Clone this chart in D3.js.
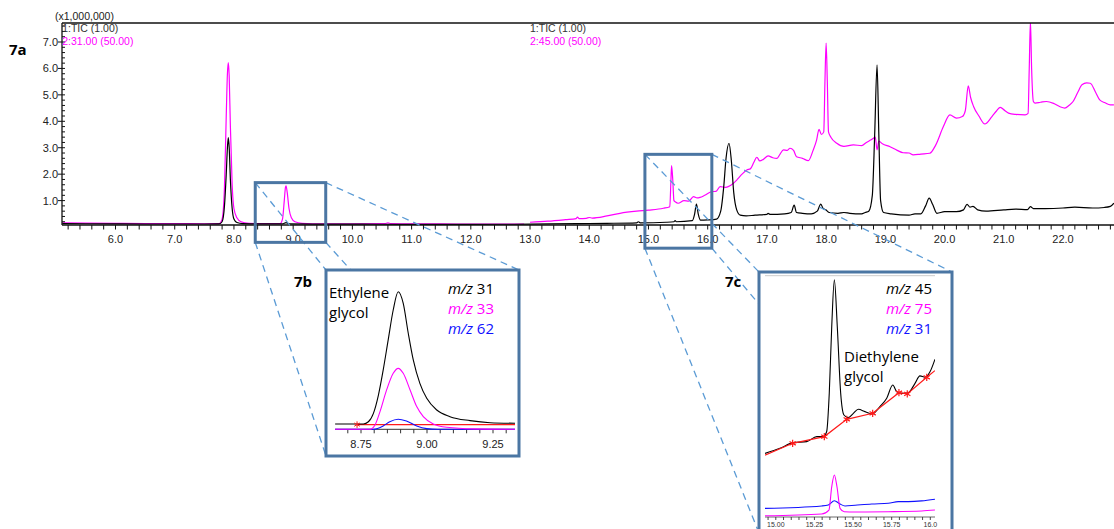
<!DOCTYPE html>
<html>
<head>
<meta charset="utf-8">
<script src="https://cdn.jsdelivr.net/npm/d3@7"></script>
<style>
  html, body { margin: 0; background: #fff; }
  svg { display: block; }
</style>
</head>
<body>
<div id="chart"></div>
<script>
// ---- 7a: main chromatogram (minutes, x1,000,000 counts) ----
const TIC = [
  [5.10,0.13],[5.5,0.125],[6.0,0.12],[6.5,0.115],[7.0,0.115],[7.5,0.115],[7.75,0.12],[7.80,0.2],
  [7.84,0.8],[7.87,2.0],[7.89,3.0],[7.905,3.38],[7.92,3.0],[7.94,1.8],[7.97,0.7],[8.00,0.3],
  [8.05,0.17],[8.15,0.13],[8.5,0.12],[8.82,0.12],[8.88,0.17],[8.93,0.12],[9.5,0.11],[10.0,0.11],
  [11.0,0.10],[12.0,0.10],[13.0,0.11],[13.8,0.13],[14.3,0.14],[14.8,0.16],[14.83,0.2],[14.86,0.16],
  [15.3,0.18],[15.43,0.2],[15.45,0.24],[15.47,0.2],[15.74,0.24],[15.78,0.5],[15.81,0.87],[15.84,0.5],
  [15.88,0.26],[16.0,0.27],[16.15,0.3],[16.22,0.6],[16.27,1.5],[16.31,2.6],[16.36,3.17],[16.40,2.5],
  [16.44,1.3],[16.49,0.65],[16.55,0.45],[16.65,0.42],[16.8,0.45],[17.0,0.48],[17.02,0.52],[17.05,0.48],
  [17.3,0.5],[17.41,0.55],[17.46,0.83],[17.50,0.55],[17.6,0.52],[17.75,0.5],[17.85,0.6],[17.91,0.87],
  [17.95,0.7],[17.99,0.66],[18.05,0.55],[18.2,0.52],[18.3,0.55],[18.4,0.52],[18.6,0.5],[18.66,0.55],
  [18.72,0.6],[18.78,1.2],[18.82,3.5],[18.86,6.14],[18.89,3.5],[18.92,1.0],[18.97,0.55],[19.1,0.5],
  [19.4,0.45],[19.5,0.5],[19.6,0.5],[19.68,0.8],[19.74,1.09],[19.8,0.85],[19.87,0.52],[20.0,0.58],
  [20.2,0.58],[20.32,0.65],[20.38,0.86],[20.43,0.75],[20.48,0.78],[20.56,0.65],[20.7,0.6],[21.0,0.65],
  [21.2,0.68],[21.4,0.66],[21.45,0.77],[21.5,0.7],[21.7,0.7],[22.0,0.72],[22.2,0.75],[22.5,0.72],
  [22.7,0.74],[22.8,0.78],[22.86,0.9]
];
const MZ31_MAIN = [
  [5.1,0.16],[5.5,0.15],[6.0,0.14],[6.5,0.13],[7.0,0.13],[7.5,0.125],[7.75,0.13],[7.80,0.3],
  [7.84,1.5],[7.87,4.2],[7.89,5.8],[7.905,6.22],[7.92,5.7],[7.94,3.8],[7.97,1.6],[8.0,0.7],
  [8.05,0.35],[8.12,0.2],[8.25,0.14],[8.5,0.13],[8.78,0.13],[8.82,0.3],[8.85,1.0],[8.87,1.5],
  [8.88,1.56],[8.90,1.3],[8.93,0.7],[8.97,0.35],[9.03,0.2],[9.15,0.14],[9.5,0.12],[10.0,0.12],
  [10.55,0.13],[10.6,0.16],[10.65,0.13],[11.0,0.12],[11.5,0.12],[12.0,0.11],[12.9,0.11]
];
const MZ45_MAIN = [
  [13.0,0.18],[13.3,0.22],[13.6,0.28],[13.78,0.32],[13.8,0.38],[13.83,0.32],[13.95,0.33],[14.0,0.36],
  [14.05,0.34],[14.3,0.42],[14.52,0.52],[14.8,0.6],[15.0,0.64],[15.25,0.71],[15.36,0.77],[15.38,1.8],
  [15.39,2.32],[15.41,1.8],[15.43,1.0],[15.45,0.96],[15.5,0.9],[15.6,1.0],[15.68,0.98],[15.76,1.15],
  [15.82,1.1],[15.87,1.12],[15.95,1.2],[16.07,1.34],[16.14,1.35],[16.21,1.53],[16.3,1.5],[16.43,1.65],
  [16.5,1.8],[16.58,2.0],[16.66,2.16],[16.72,2.2],[16.78,2.45],[16.83,2.64],[16.88,2.5],[16.94,2.56],
  [17.02,2.69],[17.1,2.62],[17.17,2.6],[17.22,2.75],[17.28,2.92],[17.34,2.9],[17.39,2.98],[17.45,2.9],
  [17.5,2.66],[17.6,2.6],[17.7,2.51],[17.78,2.9],[17.84,3.3],[17.88,3.7],[17.92,3.5],[17.96,3.6],
  [17.98,5.5],[18.0,6.96],[18.02,5.5],[18.04,3.6],[18.08,3.4],[18.18,3.17],[18.3,3.05],[18.46,3.11],
  [18.6,3.08],[18.68,3.2],[18.76,3.3],[18.8,3.36],[18.83,3.4],[18.86,2.92],[18.89,3.25],[18.95,3.15],
  [19.08,3.04],[19.2,2.9],[19.3,2.81],[19.4,2.8],[19.47,2.73],[19.6,2.76],[19.75,2.79],[19.85,3.1],
  [19.98,3.8],[20.09,4.24],[20.2,4.12],[20.3,4.18],[20.35,4.4],[20.4,5.34],[20.44,4.9],[20.49,4.56],
  [20.58,4.2],[20.68,3.9],[20.8,4.18],[20.88,4.4],[20.94,4.53],[21.02,4.4],[21.08,4.31],[21.2,4.26],
  [21.36,4.24],[21.41,4.3],[21.43,6.0],[21.45,7.8],[21.47,6.0],[21.5,4.75],[21.53,4.69],[21.62,4.72],
  [21.72,4.75],[21.84,4.68],[21.95,4.55],[22.03,4.5],[22.1,4.6],[22.17,4.75],[22.25,5.1],[22.32,5.38],
  [22.4,5.45],[22.46,5.44],[22.55,5.1],[22.62,4.81],[22.71,4.7],[22.8,4.62],[22.86,4.62]
];
const X_TICKS = [6, 7, 8, 9, 10, 11, 12, 13, 14, 15, 16, 17, 18, 19, 20, 21, 22];
const Y_TICKS = [1, 2, 3, 4, 5, 6, 7];
const TRACE_LABELS = [
  { t: 5.1, lines: ["1:TIC (1.00)", "2:31.00 (50.00)"] },
  { t: 13.0, lines: ["1:TIC (1.00)", "2:45.00 (50.00)"] },
];
// zoom windows on 7a: [t0, t1], [v0, v1]
const ZOOM_7B = { t: [8.36, 9.55], v: [-0.58, 1.68] };
const ZOOM_7C = { t: [14.94, 16.07], v: [-0.80, 2.75] };

// ---- 7b: ethylene glycol (relative intensity) ----
const EG_MZ31 = [
  [8.652,3.9],[8.759,3.9],[8.778,5.5],[8.797,11.6],[8.816,24.9],[8.834,43],[8.853,65],[8.872,86.7],
  [8.891,100],[8.91,91.5],[8.929,69.8],[8.948,50.4],[8.973,33.4],[8.999,22.5],[9.037,14],[9.087,9.2],
  [9.163,6.3],[9.239,4.8],[9.336,4.4]
];
const EG_MZ33 = [
  [8.652,0],[8.784,0],[8.803,3.1],[8.822,12.8],[8.847,28.6],[8.872,40.7],[8.891,44.3],[8.91,40.7],
  [8.936,28.6],[8.961,16.5],[8.986,9.2],[9.024,3.9],[9.075,1.5],[9.176,0.3],[9.336,0]
];
const EG_MZ62 = [
  [8.652,0],[8.797,0],[8.834,2.4],[8.859,5.5],[8.891,7.3],[8.922,6.0],[8.961,2.4],[8.999,0.5],
  [9.04,0],[9.336,0]
];
const EG_BASE = [[8.735,3.4],[9.336,3.4]];
const EG_MARK = [[8.735,3.4]];
const EG_TICKS = [8.75, 9.00, 9.25];

// ---- 7c: diethylene glycol (relative intensity) ----
const DEG_MZ45 = [
  [14.93,26.5],[15.027,28.6],[15.113,31.0],[15.2,31.4],[15.265,33.5],[15.307,33.5],[15.329,35.5],
  [15.346,51.5],[15.362,79.3],[15.379,98.8],[15.398,79.3],[15.42,51.5],[15.441,42.5],[15.469,41.4],
  [15.502,43.2],[15.534,44.9],[15.577,43.9],[15.621,42.9],[15.674,46.0],[15.718,49.5],[15.757,55.0],
  [15.783,52.2],[15.815,51.5],[15.858,51.8],[15.901,55.7],[15.933,58.8],[15.966,58.2],[15.998,60.5],
  [16.03,65.7]
];
const DEG_BASE = [
  [14.93,25.8],[15.109,30.7],[15.314,33.5],[15.459,40.7],[15.627,43.2],[15.797,51.8],[15.851,51.3],
  [15.977,58.2],[16.03,61.0]
];
const DEG_MARK = [
  [15.109,30.7],[15.314,33.5],[15.459,40.7],[15.627,43.2],[15.797,51.8],[15.851,51.3],[15.977,58.2]
];
const DEG_MZ31 = [
  [14.93,3.6],[15.297,4.6],[15.34,5.0],[15.379,6.8],[15.416,5.4],[15.448,4.6],[15.513,4.9],
  [15.621,5.4],[15.728,5.7],[15.793,6.4],[15.858,6.4],[15.944,6.7],[16.03,7.4]
];
const DEG_MZ75 = [
  [14.93,0.5],[15.297,1.25],[15.344,2.9],[15.362,12.6],[15.379,17.5],[15.396,12.6],[15.416,3.6],
  [15.443,2.2],[15.513,2.1],[15.728,2.2],[15.944,2.5],[16.03,2.9]
];
const DEG_TICKS = [15.00, 15.25, 15.50, 15.75, 16.00];
const DEG_TICK_LABELS = ["15.00", "15.25", "15.50", "15.75", "16.0"];

(() => {
  const W = 1114, H = 529;
  const C = { ink: "#000", axis: "#111", lbl: "#222", mag: "#ff00ff", blue: "#1010ff",
              red: "#ff1a1a", box: "#4b76a3", dash: "#5b9bd5" };
  const SANS = "'Liberation Sans', Arial, sans-serif";
  const MY = "'Open Sans', 'Noto Sans', sans-serif";

  const svg = d3.select("#chart").append("svg")
    .attr("width", W).attr("height", H).attr("viewBox", `0 0 ${W} ${H}`);
  const defs = svg.append("defs");

  // ---------------- 7a ----------------
  const L = 62, R = 1114, T = 23, B = 225;
  const x = d3.scaleLinear().domain([6, 22]).range([115.5, 1063]);
  const y = d3.scaleLinear().domain([1, 7]).range([200.6, 42]);

  defs.append("clipPath").attr("id", "clipA")
    .append("rect").attr("x", L).attr("y", T).attr("width", R - L).attr("height", B - T);

  const line = d3.line().x(d => x(d[0])).y(d => y(d[1])).curve(d3.curveMonotoneX);
  const gA = svg.append("g").attr("clip-path", "url(#clipA)");
  gA.append("path").attr("d", line(MZ31_MAIN)).attr("fill", "none")
    .attr("stroke", C.mag).attr("stroke-width", 1.2);
  gA.append("path").attr("d", line(MZ45_MAIN)).attr("fill", "none")
    .attr("stroke", C.mag).attr("stroke-width", 1.2);
  gA.append("path").attr("d", line(TIC)).attr("fill", "none")
    .attr("stroke", C.ink).attr("stroke-width", 1.2);

  // frame: top line, y axis, x axis
  svg.append("line").attr("x1", L).attr("x2", R).attr("y1", T).attr("y2", T)
    .attr("stroke", C.axis).attr("stroke-width", 1.3);
  svg.append("line").attr("x1", L).attr("x2", L).attr("y1", T).attr("y2", B)
    .attr("stroke", C.axis).attr("stroke-width", 1.3);
  svg.append("line").attr("x1", L).attr("x2", R).attr("y1", B).attr("y2", B)
    .attr("stroke", C.axis).attr("stroke-width", 1.3);

  // x ticks (minor every 0.2 min)
  d3.range(26, 115).map(i => i / 5).forEach(t => {
    if (x(t) < L + 2 || x(t) > R) return;
    svg.append("line").attr("x1", x(t)).attr("x2", x(t)).attr("y1", B).attr("y2", B + 4.5)
      .attr("stroke", C.axis).attr("stroke-width", 1);
  });
  X_TICKS.forEach(t => {
    svg.append("text").attr("x", x(t)).attr("y", B + 18).attr("text-anchor", "middle")
      .attr("style", `font:11px ${SANS};fill:${C.lbl}`).text(t.toFixed(1));
  });
  // y ticks (minor every 0.2)
  d3.range(1, 39).map(i => i / 5).forEach(v => {
    if (y(v) < T + 1 || y(v) > B - 1) return;
    svg.append("line").attr("x1", L).attr("x2", L + 3).attr("y1", y(v)).attr("y2", y(v))
      .attr("stroke", C.axis).attr("stroke-width", 1);
  });
  Y_TICKS.forEach(v => {
    svg.append("line").attr("x1", L - 4).attr("x2", L).attr("y1", y(v)).attr("y2", y(v))
      .attr("stroke", C.axis).attr("stroke-width", 1);
    svg.append("text").attr("x", L - 4).attr("y", y(v) + 4).attr("text-anchor", "end")
      .attr("style", `font:11px ${SANS};fill:${C.lbl}`).text(v.toFixed(1));
  });

  svg.append("text").attr("x", 55).attr("y", 20)
    .attr("style", `font:10.5px ${SANS};fill:${C.lbl}`).text("(x1,000,000)");
  TRACE_LABELS.forEach(d => {
    svg.append("text").attr("x", x(d.t)).attr("y", 32)
      .attr("style", `font:10.5px ${SANS};fill:#333`).text(d.lines[0]);
    svg.append("text").attr("x", x(d.t)).attr("y", 44.5)
      .attr("style", `font:10.5px ${SANS};fill:${C.mag}`).text(d.lines[1]);
  });
  svg.append("text").attr("x", 9).attr("y", 55)
    .attr("style", `font:700 15px ${MY};fill:#000`).text("7a");

  // ---------------- inset frames ----------------
  const IB = { x0: 326, x1: 519, y0: 270, y1: 456 };
  const IC = { x0: 759, x1: 952, y0: 272, y1: 533 };
  const zb = { x0: x(ZOOM_7B.t[0]), x1: x(ZOOM_7B.t[1]), y0: y(ZOOM_7B.v[1]), y1: y(ZOOM_7B.v[0]) };
  const zc = { x0: x(ZOOM_7C.t[0]), x1: x(ZOOM_7C.t[1]), y0: y(ZOOM_7C.v[1]), y1: y(ZOOM_7C.v[0]) };

  // connector lines (corner to corner), drawn under the insets
  [[zb, IB], [zc, IC]].forEach(([z, I]) => {
    [["x0", "y0"], ["x1", "y0"], ["x0", "y1"], ["x1", "y1"]].forEach(([kx, ky]) => {
      svg.append("line").attr("x1", z[kx]).attr("y1", z[ky]).attr("x2", I[kx]).attr("y2", I[ky])
        .attr("stroke", C.dash).attr("stroke-width", 1.3).attr("stroke-dasharray", "7 5");
    });
    svg.append("rect").attr("x", z.x0).attr("y", z.y0)
      .attr("width", z.x1 - z.x0).attr("height", z.y1 - z.y0)
      .attr("fill", "none").attr("stroke", C.box).attr("stroke-width", 3);
    svg.append("rect").attr("x", I.x0).attr("y", I.y0)
      .attr("width", I.x1 - I.x0).attr("height", I.y1 - I.y0)
      .attr("fill", "#fff").attr("stroke", C.box).attr("stroke-width", 3);
  });

  svg.append("text").attr("x", 294).attr("y", 287)
    .attr("style", `font:700 15px ${MY};fill:#000`).text("7b");
  svg.append("text").attr("x", 725).attr("y", 287)
    .attr("style", `font:700 15px ${MY};fill:#000`).text("7c");

  const legend = (xr, y0, items) => items.forEach(([n, col], i) => {
    const t = svg.append("text").attr("x", xr).attr("y", y0 + i * 20).attr("text-anchor", "end")
      .attr("style", `font:15px ${MY};fill:${col}`);
    t.append("tspan").attr("font-style", "italic").text("m/z");
    t.append("tspan").text(" " + n);
  });

  // ---------------- 7b ----------------
  const bx = d3.scaleLinear().domain([8.75, 9.25]).range([361, 493]);
  const by = d3.scaleLinear().domain([0, 100]).range([429.3, 291.7]);
  const BL = 335, BR = 515, BA = 429.3;
  defs.append("clipPath").attr("id", "clipB")
    .append("rect").attr("x", BL).attr("y", 280).attr("width", BR - BL).attr("height", 160);
  const lineB = d3.line().x(d => bx(d[0])).y(d => by(d[1])).curve(d3.curveMonotoneX);

  svg.append("line").attr("x1", BL).attr("x2", BR).attr("y1", BA).attr("y2", BA)
    .attr("stroke", "#333").attr("stroke-width", 1);
  d3.range(174, 187).map(i => i / 20).forEach(t => {
    if (bx(t) < BL || bx(t) > BR) return;
    svg.append("line").attr("x1", bx(t)).attr("x2", bx(t)).attr("y1", BA).attr("y2", BA + 4)
      .attr("stroke", "#333").attr("stroke-width", 1);
  });
  EG_TICKS.forEach(t => {
    svg.append("text").attr("x", bx(t)).attr("y", BA + 19).attr("text-anchor", "middle")
      .attr("style", `font:11px ${SANS};fill:#222`).text(t.toFixed(2));
  });
  const gB = svg.append("g").attr("clip-path", "url(#clipB)");
  gB.append("path").attr("d", lineB(EG_BASE)).attr("fill", "none").attr("stroke", C.red).attr("stroke-width", 1.2);
  gB.append("path").attr("d", lineB(EG_MZ62)).attr("fill", "none").attr("stroke", C.blue).attr("stroke-width", 1.1);
  gB.append("path").attr("d", lineB(EG_MZ33)).attr("fill", "none").attr("stroke", C.mag).attr("stroke-width", 1.1);
  gB.append("path").attr("d", lineB(EG_MZ31)).attr("fill", "none").attr("stroke", C.ink).attr("stroke-width", 1.1);
  gB.selectAll("path.mk").data(EG_MARK).join("path").attr("class", "mk")
    .attr("transform", d => `translate(${bx(d[0])},${by(d[1])})`)
    .attr("d", d3.symbol(d3.symbolAsterisk, 30)).attr("stroke", C.red).attr("stroke-width", 1);

  svg.append("text").attr("x", 329).attr("y", 298)
    .attr("style", `font:15px ${MY};fill:#000`).text("Ethylene");
  svg.append("text").attr("x", 329).attr("y", 318)
    .attr("style", `font:15px ${MY};fill:#000`).text("glycol");
  legend(494, 294, [["31", C.ink], ["33", C.mag], ["62", C.blue]]);

  // ---------------- 7c ----------------
  const cx = d3.scaleLinear().domain([15, 16]).range([775.8, 930.3]);
  const cy = d3.scaleLinear().domain([0, 100]).range([517, 277]);
  const CL = 765, CR = 935, CA = 517;
  defs.append("clipPath").attr("id", "clipC")
    .append("rect").attr("x", CL).attr("y", 276).attr("width", CR - CL).attr("height", 245);
  const lineC = d3.line().x(d => cx(d[0])).y(d => cy(d[1])).curve(d3.curveMonotoneX);
  const lineCs = d3.line().x(d => cx(d[0])).y(d => cy(d[1]));

  svg.append("line").attr("x1", CL).attr("x2", CR).attr("y1", 275.7).attr("y2", 275.7)
    .attr("stroke", "#ccc").attr("stroke-width", 1);
  svg.append("line").attr("x1", CL).attr("x2", CR).attr("y1", CA).attr("y2", CA)
    .attr("stroke", "#444").attr("stroke-width", 0.8);
  d3.range(299, 321).map(i => i / 20).forEach(t => {
    if (cx(t) < CL || cx(t) > CR) return;
    svg.append("line").attr("x1", cx(t)).attr("x2", cx(t)).attr("y1", CA).attr("y2", CA + 3)
      .attr("stroke", "#333").attr("stroke-width", 0.9);
  });
  DEG_TICKS.forEach((t, i) => {
    svg.append("text").attr("x", cx(t)).attr("y", CA + 10).attr("text-anchor", "middle")
      .attr("style", `font:7px ${SANS};fill:#333`).text(DEG_TICK_LABELS[i]);
  });
  const gC = svg.append("g").attr("clip-path", "url(#clipC)");
  gC.append("path").attr("d", lineC(DEG_MZ31)).attr("fill", "none").attr("stroke", C.blue).attr("stroke-width", 1.1);
  gC.append("path").attr("d", lineC(DEG_MZ75)).attr("fill", "none").attr("stroke", C.mag).attr("stroke-width", 1.1);
  gC.append("path").attr("d", lineC(DEG_MZ45)).attr("fill", "none").attr("stroke", C.ink).attr("stroke-width", 1.1);
  gC.append("path").attr("d", lineCs(DEG_BASE)).attr("fill", "none").attr("stroke", C.red).attr("stroke-width", 1.2);
  gC.selectAll("path.mk").data(DEG_MARK).join("path").attr("class", "mk")
    .attr("transform", d => `translate(${cx(d[0])},${cy(d[1])})`)
    .attr("d", d3.symbol(d3.symbolAsterisk, 36)).attr("stroke", C.red).attr("stroke-width", 1.2);

  svg.append("text").attr("x", 844).attr("y", 362)
    .attr("style", `font:15px ${MY};fill:#000`).text("Diethylene");
  svg.append("text").attr("x", 844).attr("y", 382)
    .attr("style", `font:15px ${MY};fill:#000`).text("glycol");
  legend(932, 294, [["45", C.ink], ["75", C.mag], ["31", C.blue]]);
})();
</script>
</body>
</html>
